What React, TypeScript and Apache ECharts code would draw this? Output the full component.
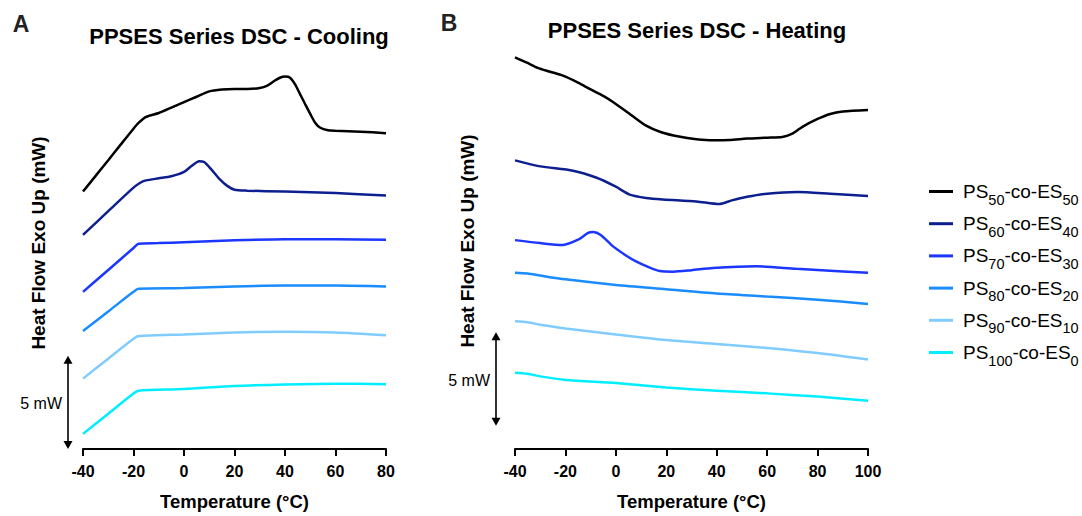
import React, { useEffect, useRef } from "react";
import * as echarts from "echarts";

const seriesNames = [
  "PS50-co-ES50",
  "PS60-co-ES40",
  "PS70-co-ES30",
  "PS80-co-ES20",
  "PS90-co-ES10",
  "PS100-co-ES0",
];
const subA = ["50", "60", "70", "80", "90", "100"];
const subB = ["50", "40", "30", "20", "10", "0"];
const colors = ["#000000", "#0d1f8f", "#1a36ff", "#1a8cff", "#80ccff", "#00eeff"];

const xTicksCool = [-40, 80];
const xTicksHeat = [-40, 100];

// Panel A: cooling (temperature °C, heat flow mW with offsets)
const cool50 = [
  [-40, 13.79], [-35, 14.63], [-30, 15.47], [-25, 16.32], [-20, 17.16], [-18, 17.47],
  [-15, 17.79], [-10, 18.0], [-5, 18.29], [0, 18.58], [5, 18.87], [10, 19.16],
  [15, 19.26], [20, 19.29], [25, 19.29], [30, 19.34], [33, 19.47], [36, 19.74],
  [38, 19.89], [40, 19.95], [42, 19.89], [44, 19.53], [46, 19.0], [48, 18.47],
  [50, 17.95], [52, 17.47], [54, 17.21], [57, 17.08], [60, 17.05], [70, 17.0], [80, 16.92],
];
const cool60 = [
  [-40, 11.47], [-30, 12.74], [-20, 14.0], [-17, 14.29], [-15, 14.39], [-10, 14.5],
  [-5, 14.61], [0, 14.84], [3, 15.16], [6, 15.42], [8, 15.37], [11, 14.95],
  [14, 14.47], [17, 14.11], [20, 13.89], [25, 13.84], [40, 13.79], [60, 13.71], [80, 13.58],
];
const cool70 = [
  [-40, 8.42], [-30, 9.59], [-20, 10.77], [-18, 11.0], [-10, 11.03], [0, 11.08],
  [20, 11.18], [40, 11.24], [60, 11.24], [80, 11.21],
];
const cool80 = [
  [-40, 6.32], [-30, 7.37], [-20, 8.42], [-18, 8.58], [0, 8.62], [20, 8.71],
  [40, 8.76], [60, 8.76], [80, 8.71],
];
const cool90 = [
  [-40, 3.77], [-30, 4.84], [-20, 5.9], [-18, 6.05], [0, 6.14], [20, 6.24],
  [40, 6.28], [60, 6.24], [80, 6.09],
];
const cool100 = [
  [-40, 0.81], [-30, 1.89], [-20, 2.97], [-18, 3.12], [0, 3.21], [20, 3.38],
  [40, 3.46], [60, 3.5], [80, 3.47],
];

// Panel B: heating
const heat50 = [
  [-40, 20.98], [-35, 20.68], [-31, 20.42], [-26, 20.21], [-21, 20.0], [-15, 19.63],
  [-10, 19.26], [-5, 18.92], [-1, 18.58], [5, 18.0], [12, 17.32], [18, 16.97],
  [25, 16.74], [32, 16.6], [38.5, 16.54], [45, 16.55], [52, 16.63], [60, 16.68],
  [66, 16.72], [70, 16.89], [74, 17.26], [80, 17.68], [85, 17.95], [90, 18.08], [100, 18.16],
];
const heat60 = [
  [-40, 15.46], [-30, 15.14], [-17, 14.91], [-7.6, 14.53], [0, 14.05], [5.5, 13.63],
  [12, 13.45], [18.7, 13.37], [32, 13.26], [41, 13.12], [46, 13.32], [52, 13.51],
  [60, 13.68], [72, 13.77], [85, 13.68], [100, 13.56],
];
const heat70 = [
  [-40, 11.19], [-30, 11.03], [-21, 10.93], [-15, 11.21], [-11, 11.58], [-9, 11.63],
  [-6, 11.47], [-1, 10.84], [4, 10.37], [8, 10.05], [13, 9.74], [17.4, 9.53],
  [22.7, 9.5], [30, 9.58], [38.5, 9.7], [55.7, 9.79], [71.6, 9.65], [85, 9.55], [100, 9.44],
];
const heat80 = [
  [-40, 9.44], [-35, 9.4], [-30, 9.29], [-20, 9.09], [0, 8.79], [20, 8.56],
  [40, 8.33], [60, 8.17], [80, 8.0], [100, 7.77],
];
const heat90 = [
  [-40, 6.84], [-35, 6.79], [-30, 6.66], [-20, 6.46], [0, 6.14], [20, 5.84],
  [40, 5.63], [60, 5.41], [80, 5.14], [100, 4.79],
];
const heat100 = [
  [-40, 4.09], [-35, 4.03], [-30, 3.89], [-20, 3.7], [0, 3.53], [20, 3.3],
  [40, 3.12], [60, 2.98], [80, 2.81], [100, 2.59],
];

const coolData = [cool50, cool60, cool70, cool80, cool90, cool100];
const heatData = [heat50, heat60, heat70, heat80, heat90, heat100];

const scaleBarA = [0, 5];
const scaleBarB = [1.25, 6.25];

const FONT = "Arial, 'Liberation Sans', Helvetica, sans-serif";

export default function App() {
  const ref = useRef<HTMLDivElement>(null);

  useEffect(() => {
    if (!ref.current) return;
    const chart = echarts.init(ref.current, undefined, { renderer: "svg" });

    const xAxisCommon = {
      type: "value",
      interval: 20,
      splitLine: { show: false },
      axisLine: { show: true, onZero: false, lineStyle: { color: "#000", width: 2 } },
      axisTick: { show: true, length: 7, lineStyle: { color: "#000", width: 2 } },
      axisLabel: { color: "#000", fontSize: 16, fontWeight: "bold", fontFamily: FONT, margin: 14 },
      name: "Temperature (°C)",
      nameLocation: "middle",
      nameGap: 43,
      nameTextStyle: { color: "#000", fontSize: 18.5, fontWeight: "bold", fontFamily: FONT },
    };

    const series: any[] = [];
    coolData.forEach((d, i) => {
      series.push({
        name: seriesNames[i], type: "line", xAxisIndex: 0, yAxisIndex: 0, data: d,
        symbol: "none", smooth: 0.25, color: colors[i], lineStyle: { width: 2.5, color: colors[i] },
      });
    });
    heatData.forEach((d, i) => {
      series.push({
        name: seriesNames[i], type: "line", xAxisIndex: 1, yAxisIndex: 1, data: d,
        symbol: "none", smooth: 0.25, color: colors[i], lineStyle: { width: 2.5, color: colors[i] },
      });
    });

    const rich = {
      m: { fontSize: 19, fontFamily: FONT, color: "#000", lineHeight: 20, padding: [5, 0, 5, 0] },
      f: { fontSize: 19, fontFamily: FONT, color: "#000", lineHeight: 20, padding: [5, 0, 5, 5] },
      s: { fontSize: 14.5, fontFamily: FONT, color: "#000", lineHeight: 14, padding: [16, 0, 0, 0] },
    };

    const legends = seriesNames.map((n, i) => ({
      data: [n],
      left: 929,
      top: 191 + i * 32.2 - 15,
      padding: 0,
      icon: "rect",
      itemWidth: 24,
      itemHeight: 3,
      formatter: () => `{f|PS}{s|${subA[i]}}{m|-co-ES}{s|${subB[i]}}`,
      textStyle: { rich },
    }));

    chart.setOption({
      animation: false,
      backgroundColor: "#ffffff",
      title: [
        {
          text: "PPSES Series DSC - Cooling", left: 234, top: 20, textAlign: "center",
          textStyle: { fontSize: 22, fontWeight: "bold", color: "#000", fontFamily: FONT },
        },
        {
          text: "PPSES Series DSC - Heating", left: 692, top: 14, textAlign: "center",
          textStyle: { fontSize: 22, fontWeight: "bold", color: "#000", fontFamily: FONT },
        },
      ],
      legend: legends,
      grid: [
        { left: 83, top: 57, width: 303, height: 399 },
        { left: 515, top: 57, width: 353, height: 399 },
      ],
      xAxis: [
        { ...xAxisCommon, gridIndex: 0, min: xTicksCool[0], max: xTicksCool[1] },
        { ...xAxisCommon, gridIndex: 1, min: xTicksHeat[0], max: xTicksHeat[1] },
      ],
      yAxis: [
        { type: "value", gridIndex: 0, min: 0, max: 21, show: false },
        { type: "value", gridIndex: 1, min: 0, max: 21, show: false },
      ],
      series,
    });

    const yA0 = chart.convertToPixel({ yAxisIndex: 0 }, scaleBarA[0]) as number;
    const yA1 = chart.convertToPixel({ yAxisIndex: 0 }, scaleBarA[1]) as number;
    const yB0 = chart.convertToPixel({ yAxisIndex: 1 }, scaleBarB[0]) as number;
    const yB1 = chart.convertToPixel({ yAxisIndex: 1 }, scaleBarB[1]) as number;

    const arrow = (x: number, top: number, bottom: number) => [
      { type: "line", shape: { x1: x, y1: top + 6, x2: x, y2: bottom - 6 }, style: { stroke: "#000", lineWidth: 1.6 } },
      { type: "polygon", shape: { points: [[x, top], [x - 4.5, top + 8], [x + 4.5, top + 8]] }, style: { fill: "#000" } },
      { type: "polygon", shape: { points: [[x, bottom], [x - 4.5, bottom - 8], [x + 4.5, bottom - 8]] }, style: { fill: "#000" } },
    ];

    chart.setOption({
      graphic: [
        { type: "text", x: 21, y: 24, style: { text: "A", fontSize: 23, fontWeight: "bold", fontFamily: FONT, fill: "#222", align: "center", verticalAlign: "middle" } },
        { type: "text", x: 449, y: 23, style: { text: "B", fontSize: 23, fontWeight: "bold", fontFamily: FONT, fill: "#222", align: "center", verticalAlign: "middle" } },
        { type: "text", x: 38, y: 243, rotation: Math.PI / 2, style: { text: "Heat Flow Exo Up (mW)", fontSize: 19, fontWeight: "bold", fontFamily: FONT, fill: "#000", align: "center", verticalAlign: "middle" } },
        { type: "text", x: 467, y: 241, rotation: Math.PI / 2, style: { text: "Heat Flow Exo Up (mW)", fontSize: 19, fontWeight: "bold", fontFamily: FONT, fill: "#000", align: "center", verticalAlign: "middle" } },
        ...arrow(68, yA1, yA0),
        ...arrow(496, yB1, yB0),
        { type: "text", x: 62, y: (yA0 + yA1) / 2 + 1, style: { text: "5 mW", fontSize: 16, fontFamily: FONT, fill: "#000", align: "right", verticalAlign: "middle" } },
        { type: "text", x: 490, y: (yB0 + yB1) / 2 + 1, style: { text: "5 mW", fontSize: 16, fontFamily: FONT, fill: "#000", align: "right", verticalAlign: "middle" } },
      ],
    });

    return () => chart.dispose();
  }, []);

  return (
    <div
      ref={ref}
      style={{ position: "absolute", left: 0, top: 0, width: 1082, height: 516, background: "#fff" }}
    />
  );
}
